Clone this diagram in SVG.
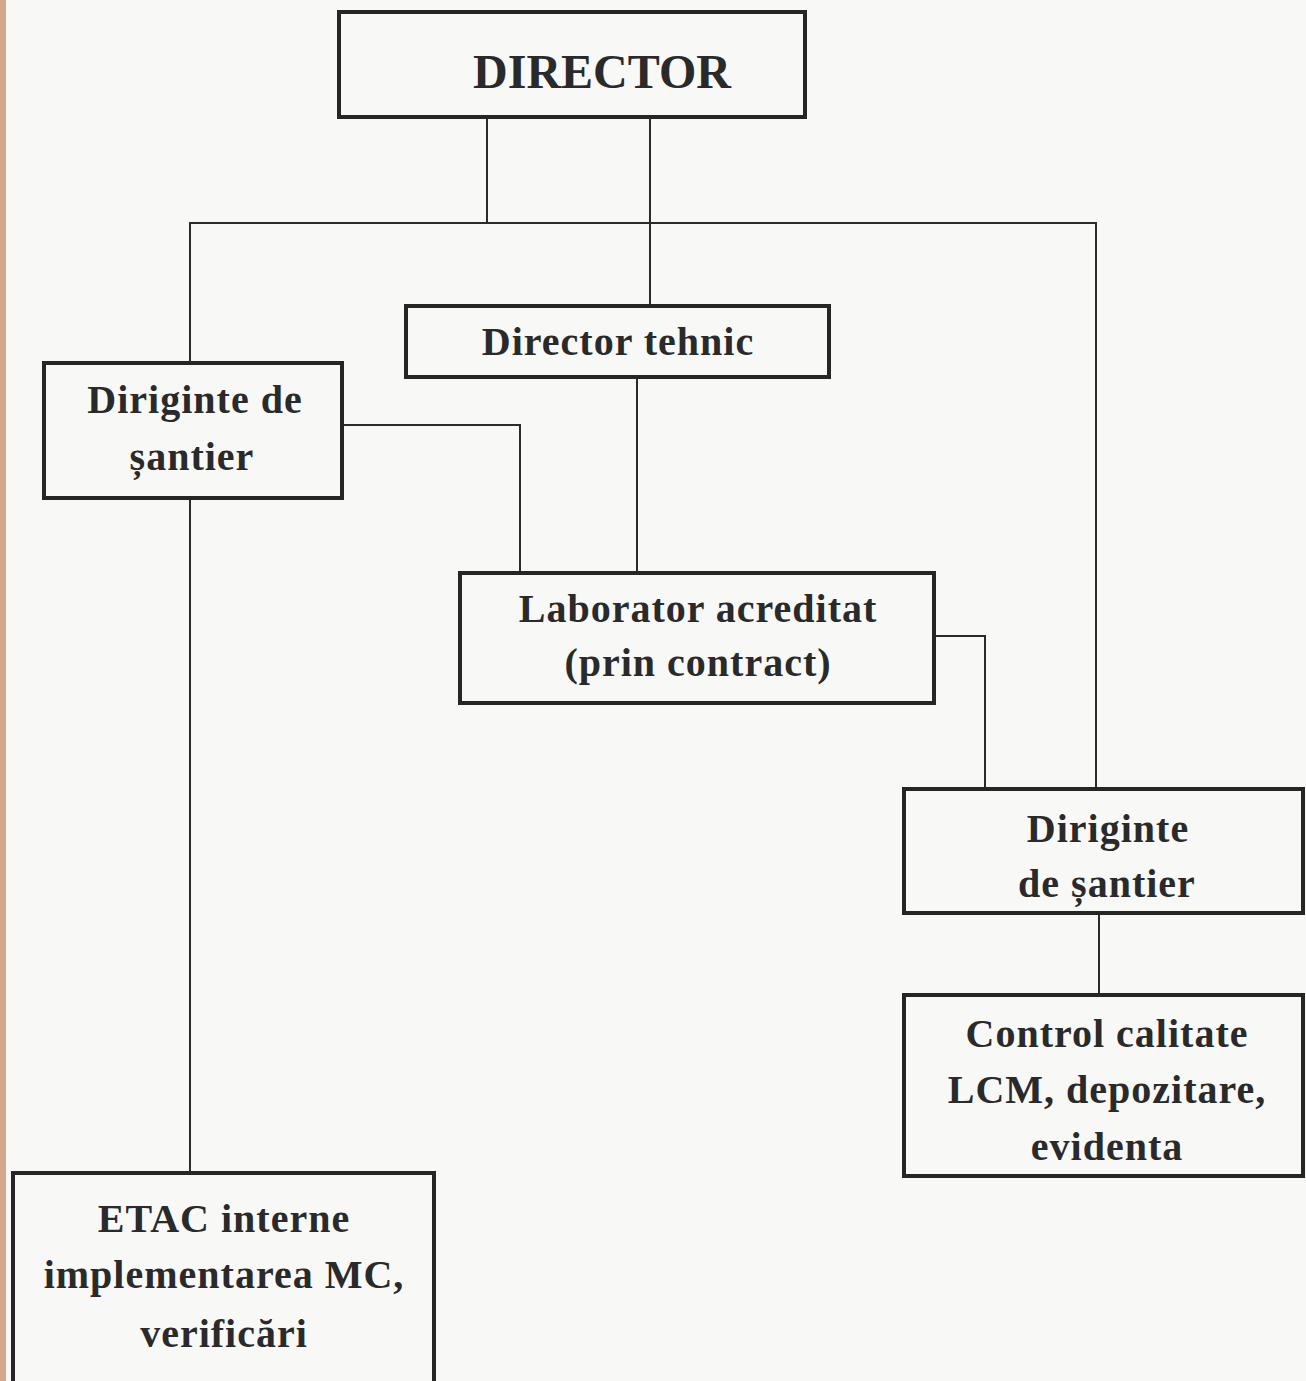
<svg xmlns="http://www.w3.org/2000/svg" width="1306" height="1381" viewBox="0 0 1306 1381">
<style>
.box{fill:none;stroke:#262626;stroke-width:4}
.con{fill:none;stroke:#2b2b2b;stroke-width:2}
.t{font-family:"Liberation Serif","Times New Roman",serif;font-weight:bold;font-size:40px;letter-spacing:1px;fill:#2a2a2a;text-anchor:middle}
.big{font-size:48px;letter-spacing:0}
</style>
<rect x="0" y="0" width="1306" height="1381" fill="#f8f8f6"/>
<rect x="0" y="0" width="6" height="1381" fill="#d3a78c"/>
<g id="connectors">
<polyline class="con" points="487,118 487,223"/>
<polyline class="con" points="650,118 650,305"/>
<polyline class="con" points="190,362 190,223 1096,223 1096,788"/>
<polyline class="con" points="343,425 520,425 520,572"/>
<polyline class="con" points="637,378 637,572"/>
<polyline class="con" points="935,636 985,636 985,788"/>
<polyline class="con" points="1099,914 1099,994"/>
<polyline class="con" points="190,499 190,1172"/>
</g>
<g id="director">
<rect class="box" x="339" y="12" width="466" height="105"/>
<text class="t big" x="602" y="88">DIRECTOR</text>
</g>
<g id="director-tehnic">
<rect class="box" x="406" y="306" width="423" height="71"/>
<text class="t" x="618" y="355">Director tehnic</text>
</g>
<g id="diriginte-stanga">
<rect class="box" x="44" y="363" width="298" height="135"/>
<text class="t" x="195" y="413">Diriginte de</text>
<text class="t" x="192" y="470">șantier</text>
</g>
<g id="laborator">
<rect class="box" x="460" y="573" width="474" height="130"/>
<text class="t" x="698" y="622">Laborator acreditat</text>
<text class="t" x="698" y="676">(prin contract)</text>
</g>
<g id="diriginte-dreapta">
<rect class="box" x="904" y="789" width="399" height="124"/>
<text class="t" x="1108" y="842">Diriginte</text>
<text class="t" x="1107" y="897">de șantier</text>
</g>
<g id="control-calitate">
<rect class="box" x="904" y="995" width="399" height="181"/>
<text class="t" x="1107" y="1047">Control calitate</text>
<text class="t" x="1107" y="1103">LCM, depozitare,</text>
<text class="t" x="1107" y="1160">evidenta</text>
</g>
<g id="etac">
<rect class="box" x="13" y="1173" width="421" height="220"/>
<text class="t" x="224" y="1232">ETAC interne</text>
<text class="t" x="224" y="1288">implementarea MC,</text>
<text class="t" x="224" y="1347">verificări</text>
</g>
</svg>
